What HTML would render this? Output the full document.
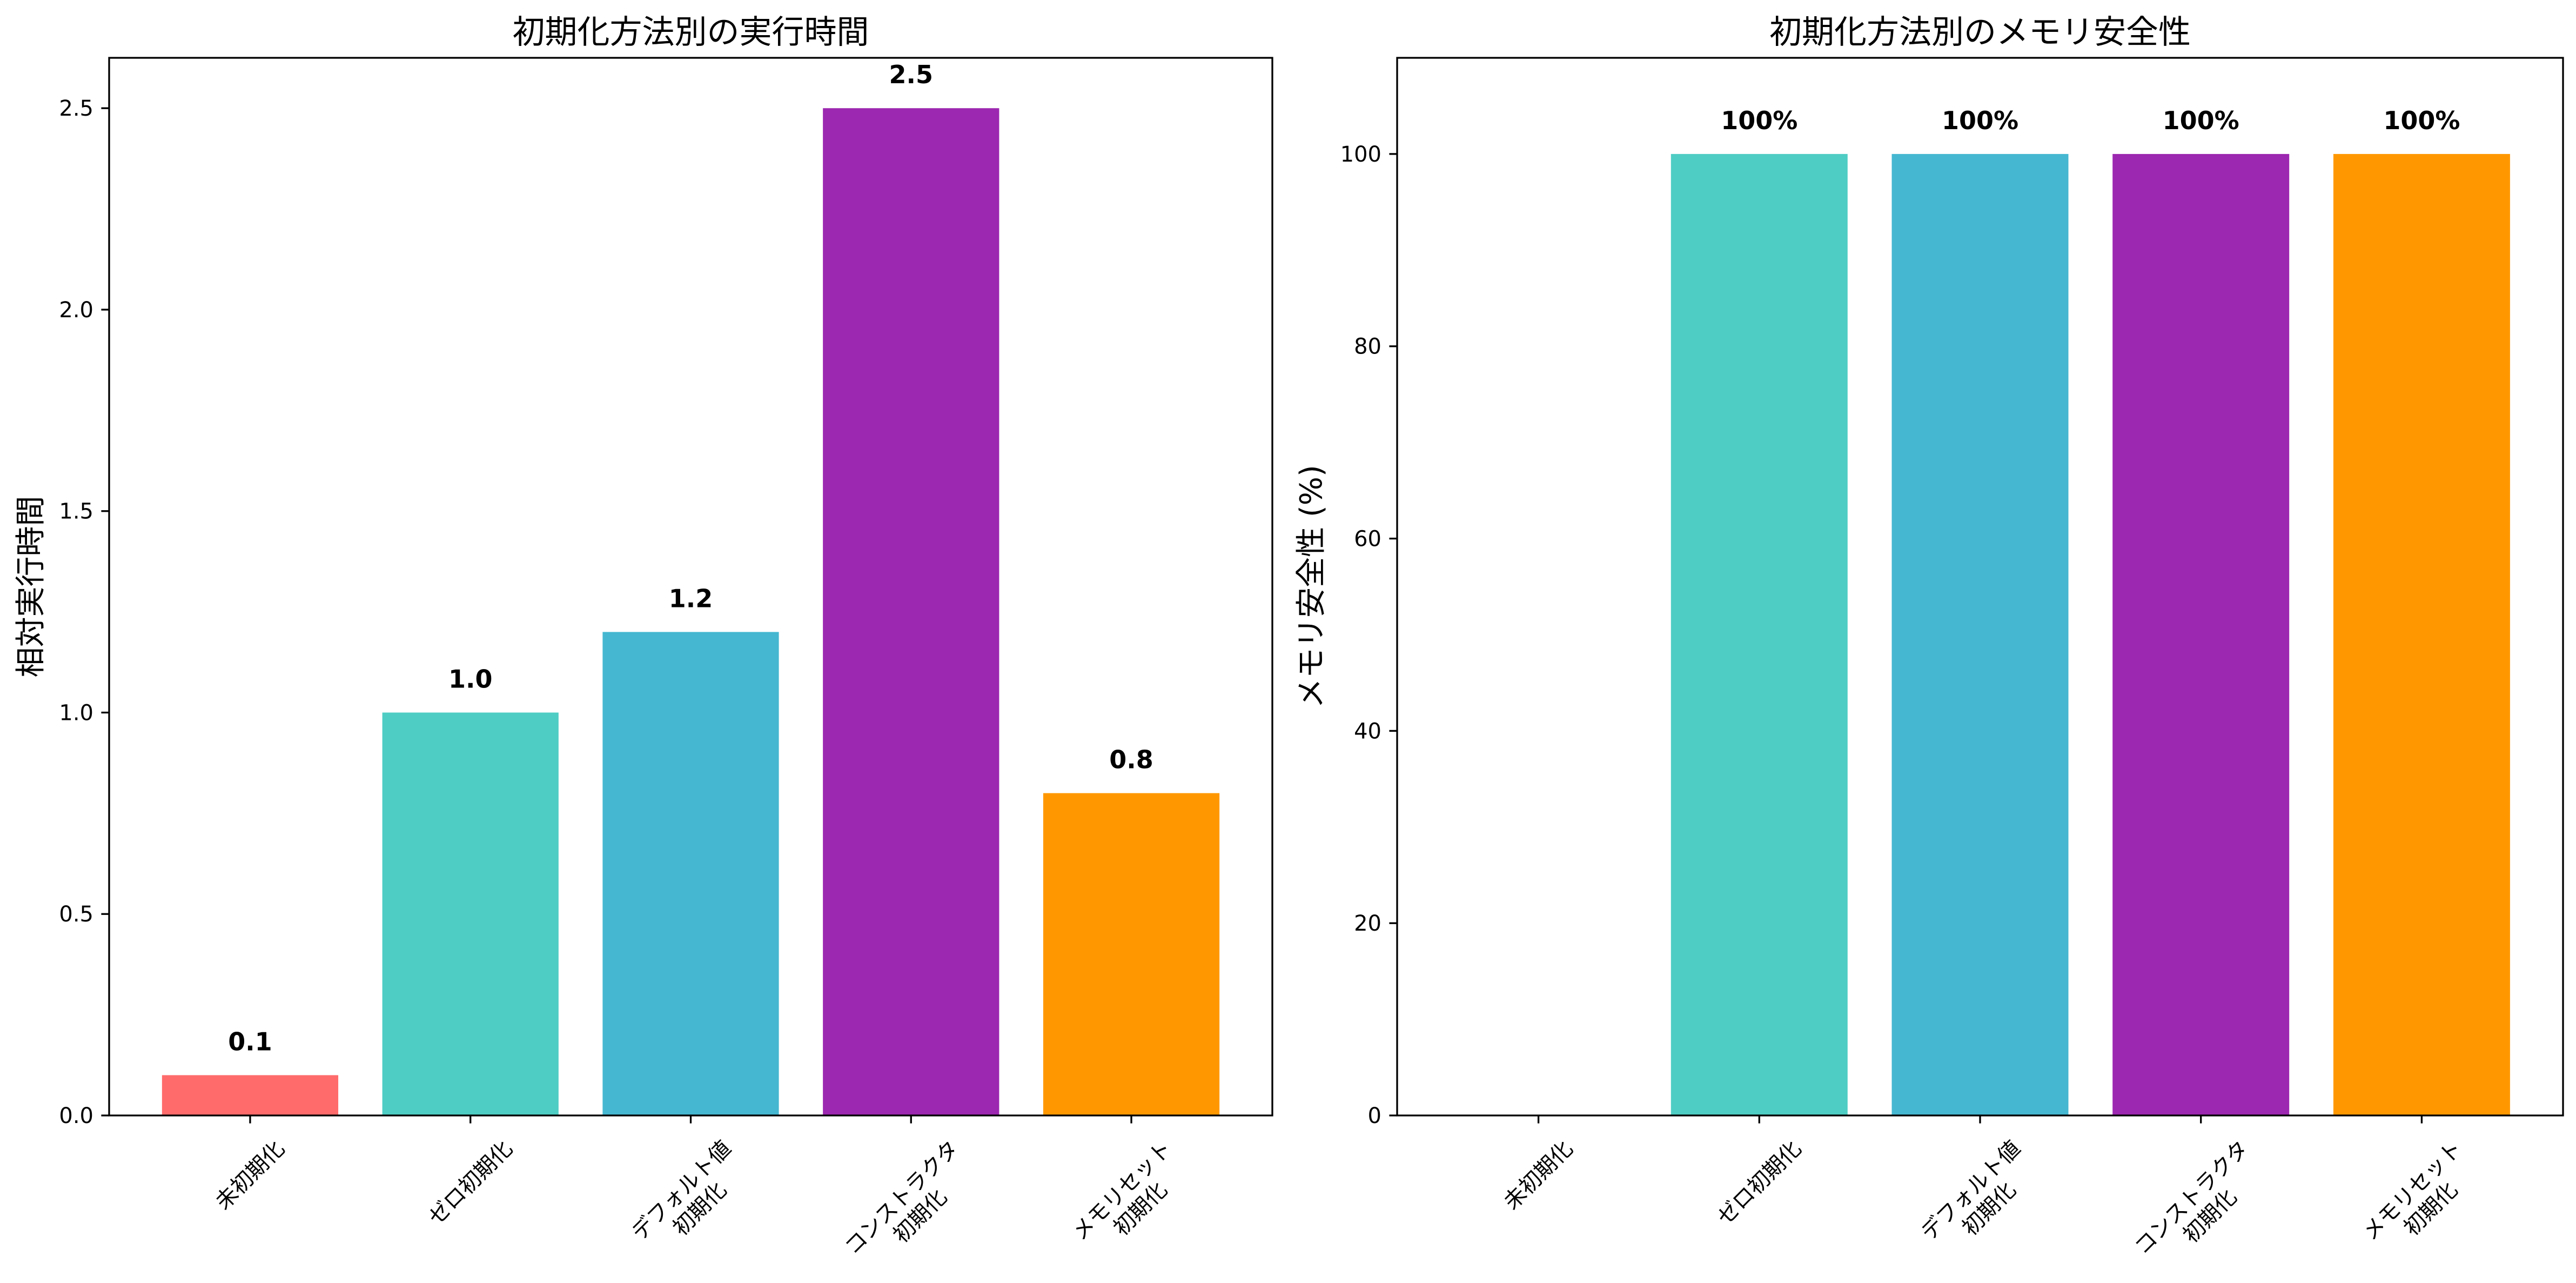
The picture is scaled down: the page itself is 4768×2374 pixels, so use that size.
<!DOCTYPE html>
<html><head><meta charset="utf-8">
<style>
html,body{margin:0;padding:0;background:#fff;}
svg{display:block;}
text{font-family:"DejaVu Sans","Liberation Sans","Noto Sans CJK JP",sans-serif;fill:#000;}
</style></head>
<body>
<svg id="chart" width="4768" height="2374" viewBox="0 0 4768 2374" xmlns="http://www.w3.org/2000/svg">
<rect width="4768" height="2374" fill="#fff"/>
</svg>
<script>
const categories = ["未初期化","ゼロ初期化","デフォルト値\n初期化","コンストラクタ\n初期化","メモリセット\n初期化"];
const colors = ["#FF6B6B","#4ECDC4","#45B7D1","#9C27B0","#FF9800"];
const timeValues = [0.1, 1.0, 1.2, 2.5, 0.8];
const timeLabels = ["0.1","1.0","1.2","2.5","0.8"];
const timeTicks = [0, 0.5, 1.0, 1.5, 2.0, 2.5];
const timeTickLabels = ["0.0","0.5","1.0","1.5","2.0","2.5"];
const safetyValues = [0, 100, 100, 100, 100];
const safetyLabels = ["0%","100%","100%","100%","100%"];
const safetyTicks = [0, 20, 40, 60, 80, 100];
const safetyTickLabels = ["0","20","40","60","80","100"];

const NS = "http://www.w3.org/2000/svg";
const svg = document.getElementById('chart');
function mk(tag, attrs, parent){
  const e = document.createElementNS(NS, tag);
  for (const k in attrs) e.setAttribute(k, attrs[k]);
  (parent||svg).appendChild(e);
  return e;
}

function drawPanel(cfg){
  const L=cfg.left, R=cfg.right, T=107, B=2064;
  const xmin=-0.64, xmax=4.64;
  const xs = v => L + (v - xmin)/(xmax - xmin)*(R - L);
  const ys = v => B - v/cfg.ymax*(B - T);
  const g = mk('g', {});
  
  

  cfg.values.forEach((v,i)=>{
    if (v <= 0) return;
    const r = mk('rect', {x: xs(i-0.4), y: ys(v), width: xs(i+0.4)-xs(i-0.4), height: B-ys(v), fill: colors[i]}, g);
    
    
    const t = mk('text', {x: xs(i), y: ys(v) - cfg.labelOff, 'text-anchor':'middle', 'font-size':46, 'font-weight':'bold'}, g);
    t.textContent = cfg.labels[i];
    
    
  });

  // y ticks
  cfg.ticks.forEach((v,i)=>{
    const y = ys(v);
    const tk = mk('line', {x1: L-14.6, x2: L, y1: y, y2: y, stroke:'#000', 'stroke-width':3.3}, g);
    
    
    const t = mk('text', {x: L-29, y: y+14, 'text-anchor':'end', 'font-size':40}, g);
    t.textContent = cfg.tickLabels[i];
    
    
  });

  // x ticks and labels
  categories.forEach((c,i)=>{
    const x = xs(i);
    const tk = mk('line', {x1: x, x2: x, y1: B, y2: B+14.6, stroke:'#000', 'stroke-width':3.3}, g);
    
    
    const lg = mk('g', {}, g);
    
    
    const t = mk('text', {'text-anchor':'middle', 'font-size':40, transform:'rotate(-45)'}, lg);
    const lines = c.split('\n');
    lines.forEach((ln,j)=>{
      const ts = mk('tspan', {x:0, dy: j===0 ? 0 : 48}, t);
      ts.textContent = ln;
    });
    const bb = lg.getBBox();
    const cx = bb.x + bb.width/2;
    lg.setAttribute('transform', 'translate(' + (x - cx) + ',' + (2102 - bb.y) + ')');
  });

  // frame
  const fr = mk('rect', {x:L, y:T, width:R-L, height:B-T, fill:'none', stroke:'#000', 'stroke-width':3.3}, g);
  
  

  const tt = mk('text', {x:(L+R)/2, y:80, 'text-anchor':'middle', 'font-size':60}, g);
  tt.textContent = cfg.title;
  
  

  const yl = mk('text', {x:0, y:0, 'text-anchor':'middle', 'font-size':56, transform:'translate(' + cfg.ylabelX + ',' + ((T+B)/2) + ') rotate(-90)'}, g);
  yl.textContent = cfg.ylabel;
  
  
}

drawPanel({name:'execution-time-panel', left:202, right:2355, ymax:2.625, values:timeValues, labels:timeLabels,
  ticks:timeTicks, tickLabels:timeTickLabels, labelOff:46, title:'初期化方法別の実行時間', ylabel:'相対実行時間', ylabelX:76});
drawPanel({name:'memory-safety-panel', left:2586, right:4744, ymax:110, values:safetyValues, labels:safetyLabels,
  ticks:safetyTicks, tickLabels:safetyTickLabels, labelOff:46, title:'初期化方法別のメモリ安全性', ylabel:'メモリ安全性 (%)', ylabelX:2446});
</script>
</body></html>
